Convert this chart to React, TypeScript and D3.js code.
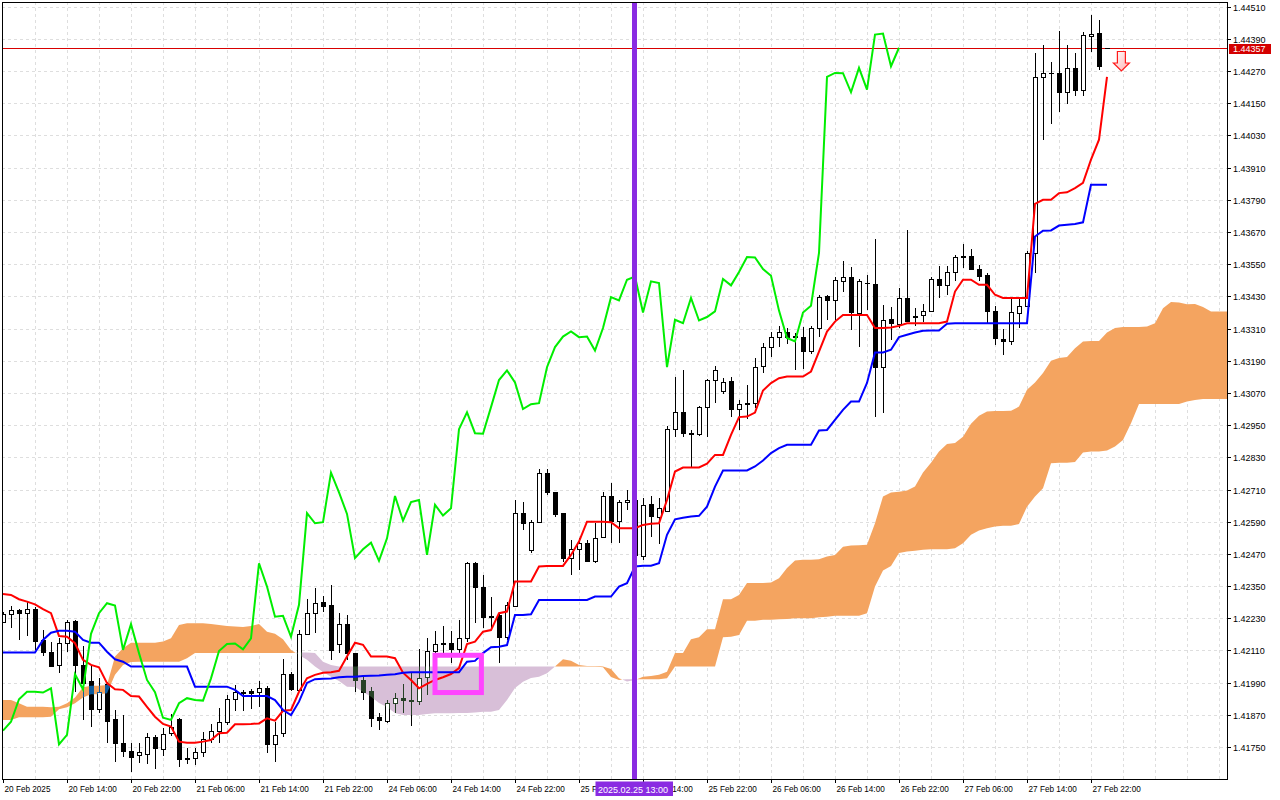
import React from "react";
import * as d3 from "d3";

// ---------- DATA ----------
// H1 bars, bar 0 = 20 Feb 2025 06:00
const opens = [1.42217,1.42245,1.42261,1.42249,1.42265,1.42149,1.42103,1.42055,1.42137,1.42220,
1.42055,1.41996,1.41891,1.41985,1.41853,1.41764,1.41736,1.41720,1.41723,1.41786,
1.41741,1.41802,1.41854,1.41708,1.41708,1.41730,1.41780,1.41811,1.41844,1.41928,
1.41953,1.41959,1.41954,1.41971,1.41760,1.41801,1.42021,1.41963,1.42172,1.42249,
1.42290,1.42280,1.42134,1.42209,1.42100,1.42000,1.41960,1.41863,1.41848,1.41913,
1.41933,1.41925,1.41923,1.42010,1.42109,1.42134,1.42137,1.42114,1.42155,1.42435,
1.42348,1.42236,1.42242,1.42161,1.42277,1.42622,1.42485,1.42588,1.42773,1.42700,
1.42622,1.42454,1.42487,1.42512,1.42444,1.42532,1.42686,1.42594,1.42663,1.42671,
1.42462,1.42655,1.42609,1.42631,1.42935,1.42998,1.42922,1.42916,1.43017,1.43118,
1.43078,1.43115,1.43010,1.43030,1.43032,1.43169,1.43241,1.43280,1.43299,1.43282,
1.43280,1.43228,1.43312,1.43432,1.43415,1.43489,1.43504,1.43368,1.43481,1.43476,
1.43166,1.43345,1.43328,1.43424,1.43358,1.43359,1.43374,1.43495,1.43471,1.43521,
1.43581,1.43579,1.43532,1.43511,1.43377,1.43271,1.43262,1.43368,1.43395,1.43592,
1.44248,1.44263,1.44263,1.44191,1.44282,1.44201,1.44402,1.44412,1.44357];

const highs = [1.42254,1.42276,1.42265,1.42292,1.42272,1.42186,1.42143,1.42157,1.42224,1.42224,
1.42127,1.42052,1.42006,1.41994,1.41888,1.41869,1.41766,1.41766,1.41801,1.41795,
1.41820,1.41873,1.41857,1.41745,1.41745,1.41807,1.41836,1.41894,1.41944,1.41981,
1.41963,1.41965,1.41997,1.41978,1.41844,1.42078,1.42031,1.42186,1.42301,1.42344,
1.42313,1.42354,1.42249,1.42242,1.42102,1.42019,1.41975,1.41876,1.41925,1.41950,
1.41985,1.42025,1.42116,1.42155,1.42183,1.42201,1.42184,1.42224,1.42441,1.42438,
1.42392,1.42311,1.42255,1.42292,1.42671,1.42665,1.42597,1.42786,1.42786,1.42702,
1.42624,1.42522,1.42528,1.42522,1.42584,1.42702,1.42734,1.42671,1.42709,1.42701,
1.42678,1.42684,1.42678,1.42947,1.43128,1.43156,1.42932,1.43022,1.43122,1.43169,
1.43125,1.43131,1.43044,1.43100,1.43200,1.43258,1.43299,1.43320,1.43312,1.43293,
1.43316,1.43318,1.43436,1.43436,1.43502,1.43563,1.43539,1.43495,1.43511,1.43644,
1.43399,1.43390,1.43463,1.43676,1.43386,1.43402,1.43502,1.43544,1.43542,1.43585,
1.43626,1.43606,1.43548,1.43519,1.43395,1.43308,1.43420,1.43420,1.43598,1.44338,
1.44369,1.44302,1.44418,1.44369,1.44338,1.44414,1.44480,1.44462,1.44357];

const lows = [1.42213,1.42195,1.42149,1.42164,1.42112,1.42091,1.42050,1.42027,1.42105,1.41956,
1.41851,1.41826,1.41878,1.41764,1.41695,1.41712,1.41656,1.41689,1.41687,1.41667,
1.41716,1.41791,1.41674,1.41687,1.41683,1.41714,1.41764,1.41764,1.41832,1.41885,
1.41885,1.41891,1.41900,1.41727,1.41695,1.41788,1.41960,1.41956,1.42168,1.42176,
1.42255,1.42075,1.42100,1.42075,1.41956,1.41925,1.41824,1.41813,1.41838,1.41876,
1.41876,1.41829,1.41907,1.41944,1.42100,1.42100,1.42062,1.42087,1.42143,1.42211,
1.42193,1.42186,1.42062,1.42149,1.42273,1.42559,1.42473,1.42584,1.42690,1.42609,
1.42441,1.42392,1.42410,1.42441,1.42435,1.42528,1.42510,1.42512,1.42634,1.42420,
1.42448,1.42534,1.42507,1.42628,1.42907,1.42907,1.42793,1.42910,1.42907,1.43032,
1.43066,1.42982,1.42930,1.42972,1.43013,1.43146,1.43204,1.43241,1.43253,1.43156,
1.43159,1.43216,1.43280,1.43343,1.43343,1.43448,1.43305,1.43243,1.43380,1.42980,
1.42997,1.43268,1.43312,1.43336,1.43318,1.43336,1.43370,1.43424,1.43436,1.43486,
1.43536,1.43527,1.43489,1.43330,1.43250,1.43210,1.43250,1.43312,1.43392,1.43519,
1.44014,1.44074,1.44116,1.44148,1.44178,1.44178,1.44340,1.44275,1.44357];

const closes = [1.42245,1.42260,1.42249,1.42264,1.42146,1.42105,1.42052,1.42137,1.42215,1.42055,
1.41988,1.41891,1.41954,1.41848,1.41764,1.41736,1.41714,1.41730,1.41786,1.41745,
1.41799,1.41825,1.41704,1.41704,1.41730,1.41780,1.41811,1.41844,1.41928,1.41956,
1.41956,1.41953,1.41969,1.41760,1.41795,1.42021,1.41965,1.42172,1.42249,1.42286,
1.42277,1.42112,1.42208,1.42100,1.42000,1.41954,1.41859,1.41851,1.41913,1.41932,
1.41925,1.41923,1.42006,1.42108,1.42134,1.42136,1.42114,1.42155,1.42435,1.42348,
1.42236,1.42239,1.42161,1.42280,1.42622,1.42584,1.42588,1.42773,1.42699,1.42619,
1.42454,1.42487,1.42512,1.42444,1.42528,1.42686,1.42594,1.42663,1.42671,1.42466,
1.42653,1.42613,1.42640,1.42935,1.42998,1.42920,1.42918,1.43017,1.43118,1.43154,
1.43109,1.43010,1.43028,1.43032,1.43166,1.43241,1.43280,1.43299,1.43278,1.43280,
1.43228,1.43312,1.43427,1.43415,1.43492,1.43504,1.43370,1.43486,1.43480,1.43166,
1.43343,1.43330,1.43424,1.43340,1.43353,1.43374,1.43495,1.43471,1.43521,1.43577,
1.43575,1.43532,1.43507,1.43377,1.43275,1.43262,1.43370,1.43395,1.43592,1.44248,
1.44263,1.44262,1.44191,1.44282,1.44201,1.44406,1.44410,1.44288,1.44357];

// Tenkan-sen (red)
const tenkan = [1.42320,1.42317,1.42301,1.42292,1.42282,1.42264,1.42249,1.42164,1.42161,1.42137,
1.42075,1.42056,1.42047,1.41988,1.41965,1.41963,1.41940,1.41938,1.41900,1.41863,
1.41836,1.41826,1.41770,1.41766,1.41766,1.41770,1.41776,1.41801,1.41803,1.41835,
1.41835,1.41836,1.41838,1.41857,1.41848,1.41885,1.41888,1.41956,1.42006,1.42019,
1.42027,1.42029,1.42034,1.42087,1.42139,1.42131,1.42087,1.42087,1.42087,1.42081,
1.42027,1.42000,1.41969,1.41985,1.42000,1.42010,1.42022,1.42044,1.42134,1.42143,
1.42180,1.42186,1.42249,1.42255,1.42367,1.42367,1.42367,1.42423,1.42425,1.42425,
1.42425,1.42466,1.42516,1.42590,1.42590,1.42590,1.42588,1.42566,1.42566,1.42566,
1.42578,1.42582,1.42584,1.42671,1.42777,1.42792,1.42792,1.42792,1.42806,1.42839,
1.42839,1.42914,1.42980,1.42982,1.42997,1.43079,1.43107,1.43125,1.43131,1.43131,
1.43131,1.43150,1.43224,1.43299,1.43336,1.43361,1.43361,1.43361,1.43361,1.43312,
1.43312,1.43314,1.43320,1.43330,1.43330,1.43330,1.43330,1.43330,1.43336,1.43448,
1.43492,1.43492,1.43473,1.43473,1.43436,1.43424,1.43424,1.43424,1.43424,1.43775,
1.43790,1.43790,1.43815,1.43818,1.43834,1.43853,1.43940,1.44014,1.44248];

// Kijun-sen (blue)
const kijun = [1.42102,1.42102,1.42102,1.42102,1.42102,1.42149,1.42176,1.42183,1.42183,1.42180,
1.42149,1.42139,1.42139,1.42105,1.42077,1.42068,1.42050,1.42050,1.42050,1.42050,
1.42050,1.42050,1.42050,1.42050,1.41975,1.41975,1.41975,1.41975,1.41975,1.41963,
1.41940,1.41940,1.41940,1.41940,1.41925,1.41888,1.41869,1.41919,1.41989,1.42003,
1.42004,1.42005,1.42010,1.42012,1.42012,1.42015,1.42016,1.42017,1.42019,1.42021,
1.42027,1.42029,1.42029,1.42029,1.42029,1.42029,1.42029,1.42029,1.42068,1.42071,
1.42100,1.42122,1.42124,1.42130,1.42242,1.42242,1.42245,1.42298,1.42298,1.42298,
1.42298,1.42298,1.42298,1.42298,1.42311,1.42311,1.42311,1.42348,1.42361,1.42423,
1.42426,1.42426,1.42435,1.42541,1.42599,1.42605,1.42609,1.42612,1.42646,1.42721,
1.42781,1.42781,1.42781,1.42781,1.42796,1.42818,1.42846,1.42864,1.42877,1.42877,
1.42877,1.42877,1.42930,1.42932,1.42970,1.43007,1.43038,1.43038,1.43107,1.43221,
1.43221,1.43231,1.43278,1.43287,1.43295,1.43302,1.43303,1.43303,1.43328,1.43330,
1.43330,1.43330,1.43330,1.43330,1.43330,1.43330,1.43330,1.43330,1.43330,1.43653,
1.43675,1.43676,1.43694,1.43697,1.43700,1.43706,1.43846,1.43846,1.43846];

// Senkou Span A / B as plotted (already shifted 26 bars forward), bars 0..154
const spanA = [1.41925,1.41925,1.41913,1.41900,1.41900,1.41900,1.41898,1.41900,1.41913,1.41935,
1.41973,1.41978,1.41978,1.41981,1.42087,1.42118,1.42139,1.42139,1.42139,1.42139,
1.42143,1.42155,1.42205,1.42211,1.42211,1.42211,1.42209,1.42205,1.42201,1.42199,
1.42197,1.42201,1.42209,1.42180,1.42172,1.42152,1.42112,1.42093,1.42075,1.42050,
1.42030,1.42012,1.41996,1.41975,1.41974,1.41955,1.41937,1.41914,1.41899,1.41877,
1.41869,1.41869,1.41869,1.41873,1.41876,1.41876,1.41876,1.41877,1.41877,1.41879,
1.41881,1.41881,1.41888,1.41925,1.41970,1.41993,1.42007,1.42012,1.42025,1.42050,
1.42077,1.42072,1.42056,1.42052,1.42052,1.42050,1.42041,1.42006,1.41994,1.42000,
1.42012,1.42015,1.42019,1.42031,1.42100,1.42100,1.42152,1.42159,1.42189,1.42189,
1.42301,1.42301,1.42317,1.42361,1.42361,1.42361,1.42363,1.42379,1.42417,1.42445,
1.42448,1.42448,1.42450,1.42460,1.42466,1.42497,1.42501,1.42502,1.42504,1.42584,
1.42684,1.42699,1.42702,1.42706,1.42721,1.42773,1.42810,1.42852,1.42880,1.42883,
1.42907,1.42955,1.42985,1.43001,1.43003,1.43003,1.43004,1.43019,1.43082,1.43109,
1.43144,1.43190,1.43200,1.43204,1.43237,1.43262,1.43264,1.43264,1.43295,1.43312,
1.43316,1.43316,1.43316,1.43318,1.43330,1.43386,1.43409,1.43407,1.43401,1.43402,
1.43390,1.43374,1.43374,1.43374,1.43374];

const spanB = [1.41851,1.41851,1.41861,1.41861,1.41861,1.41861,1.41863,1.41891,1.41898,1.41913,
1.41935,1.41947,1.41947,1.41950,1.42019,1.42056,1.42067,1.42068,1.42068,1.42068,
1.42068,1.42068,1.42068,1.42081,1.42100,1.42100,1.42100,1.42100,1.42100,1.42100,
1.42100,1.42100,1.42100,1.42100,1.42100,1.42100,1.42100,1.42102,1.42102,1.42100,
1.42068,1.42056,1.42050,1.42050,1.42050,1.42050,1.42050,1.42050,1.42050,1.42050,
1.42050,1.42050,1.42050,1.42050,1.42050,1.42050,1.42050,1.42050,1.42050,1.42050,
1.42050,1.42050,1.42050,1.42050,1.42050,1.42050,1.42050,1.42050,1.42050,1.42050,
1.42050,1.42050,1.42050,1.42050,1.42050,1.42047,1.42011,1.42000,1.42003,1.42003,
1.42003,1.42003,1.42003,1.42006,1.42050,1.42050,1.42050,1.42050,1.42050,1.42050,
1.42159,1.42161,1.42168,1.42221,1.42221,1.42224,1.42224,1.42226,1.42227,1.42230,
1.42230,1.42230,1.42234,1.42236,1.42239,1.42239,1.42239,1.42239,1.42249,1.42348,
1.42408,1.42425,1.42473,1.42479,1.42482,1.42485,1.42487,1.42487,1.42487,1.42491,
1.42510,1.42541,1.42557,1.42566,1.42572,1.42575,1.42575,1.42581,1.42646,1.42684,
1.42715,1.42808,1.42810,1.42810,1.42813,1.42848,1.42852,1.42852,1.42855,1.42870,
1.42895,1.42957,1.43029,1.43029,1.43029,1.43029,1.43029,1.43029,1.43038,1.43044,
1.43047,1.43047,1.43047,1.43047,1.43047];

const priceTicks = [1.4175,1.4187,1.4199,1.4211,1.4223,1.4235,1.4247,1.4259,1.4271,1.4283,
1.4295,1.4307,1.4319,1.4331,1.4343,1.4355,1.4367,1.4379,1.4391,1.4403,1.4415,1.4427,1.4439,1.4451];

const timeTickBars = [0,8,16,24,32,40,48,56,64,72,80,88,96,104,112,120,128,136];
const timeTickLabels = ["20 Feb 2025","20 Feb 14:00","20 Feb 22:00","21 Feb 06:00","21 Feb 14:00",
"21 Feb 22:00","24 Feb 06:00","24 Feb 14:00","24 Feb 22:00","25 Feb 06:00","25 Feb 14:00",
"25 Feb 22:00","26 Feb 06:00","26 Feb 14:00","26 Feb 22:00","27 Feb 06:00","27 Feb 14:00","27 Feb 22:00"];

const currentPrice = 1.44357;
const markerBar = 79;
const markerLabel = "2025.02.25 13:00";
const boxBars = [54, 59.8];
const boxPrices = [1.42092, 1.41953];
const arrowBar = 139.8;
const arrowPrice = 1.44343;
const chikouShift = 26;

const FONT = "'Liberation Sans', Arial, sans-serif";

export default function App() {
  const W = 1280, H = 800;
  const L = 2, T = 2, R = 1227, B = 779;
  const x = d3.scaleLinear().domain([0, 153]).range([3, 3 + 8 * 153]);
  const y = d3.scaleLinear().domain([1.4175, 1.4451]).range([747, 6.7]);

  // cloud points with crossing points inserted
  type CP = { t: number; a: number; b: number };
  const pts: CP[] = [];
  for (let i = 0; i < spanA.length; i++) {
    pts.push({ t: i, a: spanA[i], b: spanB[i] });
    if (i < spanA.length - 1) {
      const d0 = spanA[i] - spanB[i];
      const d1 = spanA[i + 1] - spanB[i + 1];
      if (d0 * d1 < 0) {
        const f = d0 / (d0 - d1);
        const v = spanA[i] + (spanA[i + 1] - spanA[i]) * f;
        pts.push({ t: i + f, a: v, b: v });
      }
    }
  }
  const orangeArea = d3.area<CP>().x(d => x(d.t)).y0(d => y(d.b)).y1(d => y(Math.max(d.a, d.b)));
  const thistleArea = d3.area<CP>().x(d => x(d.t)).y0(d => y(d.a)).y1(d => y(Math.max(d.a, d.b)));
  const orangePath = orangeArea(pts) || "";
  const thistlePath = thistleArea(pts) || "";

  const line = d3.line<number>().x((_, i) => x(i)).y(v => y(v));
  const chikou = closes.slice(chikouShift);

  const candles = (ink: string, paper: string | null, pre: string) =>
    opens.map((o, i) => {
      const c = closes[i];
      const px = Math.round(x(i));
      const yH = Math.round(y(highs[i]));
      const yL = Math.round(y(lows[i]));
      const yT = Math.round(y(Math.max(o, c)));
      const yB = Math.round(y(Math.min(o, c)));
      const bull = c >= o;
      const els: React.ReactNode[] = [];
      if (yT > yH) els.push(<line key="u" x1={px + 0.5} x2={px + 0.5} y1={yH} y2={yT} stroke={ink} strokeWidth={1} />);
      if (yL > yB) els.push(<line key="d" x1={px + 0.5} x2={px + 0.5} y1={yB} y2={yL} stroke={ink} strokeWidth={1} />);
      if (yB - yT <= 0) {
        els.push(<line key="b" x1={px - 2} x2={px + 3} y1={yT + 0.5} y2={yT + 0.5} stroke={ink} strokeWidth={1} />);
      } else {
        els.push(
          <rect key="b" x={px - 1.5} y={yT + 0.5} width={4} height={yB - yT}
            fill={bull ? (paper ?? "none") : ink} stroke={ink} strokeWidth={1} />
        );
      }
      return <g key={pre + i}>{els}</g>;
    });

  const priceY = y(currentPrice);
  const ax = x(arrowBar), ay = y(arrowPrice);
  const arrowPts = [
    [ax - 4, ay], [ax + 4, ay], [ax + 4, ay + 11.5], [ax + 8, ay + 11.5],
    [ax, ay + 19.5], [ax - 8, ay + 11.5], [ax - 4, ay + 11.5],
  ].map(p => p.join(",")).join(" ");

  const gridBars = d3.range(4, 153, 4);

  return (
    <div style={{ position: "absolute", left: 0, top: 0 }}>
      <svg width={W} height={H} style={{ display: "block", background: "#fff" }} fontFamily={FONT}>
        <defs>
          <clipPath id="plot"><rect x={L + 1} y={T + 1} width={R - L - 1} height={B - T - 1} /></clipPath>
          <clipPath id="clipOrange"><path d={orangePath} /></clipPath>
          <clipPath id="clipThistle"><path d={thistlePath} /></clipPath>
          <linearGradient id="arrowGrad" x1="0" y1="0" x2="1" y2="1">
            <stop offset="0" stopColor="#ffffff" />
            <stop offset="1" stopColor="#ffb4b4" />
          </linearGradient>
        </defs>
        <rect x={0} y={0} width={W} height={H} fill="#fff" />
        <g clipPath="url(#plot)">
          {/* grid */}
          {priceTicks.map(p => (
            <line key={"hg" + p} x1={L} x2={R} y1={Math.round(y(p)) + 0.5} y2={Math.round(y(p)) + 0.5}
              stroke="#dedede" strokeDasharray="3,3" strokeWidth={1} />
          ))}
          {gridBars.map(b => (
            <line key={"vg" + b} x1={Math.round(x(b)) + 0.5} x2={Math.round(x(b)) + 0.5} y1={T} y2={B}
              stroke="#dedede" strokeDasharray="3,3" strokeWidth={1} />
          ))}
          {/* cloud */}
          <path d={orangePath} fill="#F4A460" />
          <path d={thistlePath} fill="#D8BFD8" />
          {/* current price line */}
          <line x1={L} x2={R} y1={Math.round(priceY) + 0.5} y2={Math.round(priceY) + 0.5} stroke="#d80000" strokeWidth={1} />
          {/* candles */}
          <g shapeRendering="crispEdges">{candles("#000", "#fff", "c")}</g>
          <g shapeRendering="crispEdges" clipPath="url(#clipOrange)">{candles("#0B5B9F", null, "o")}</g>
          <g shapeRendering="crispEdges" clipPath="url(#clipThistle)">{candles("#274027", null, "t")}</g>
          {/* ichimoku lines */}
          <path d={line(tenkan) || ""} fill="none" stroke="#ff0000" strokeWidth={2} />
          <path d={line(kijun) || ""} fill="none" stroke="#0000ff" strokeWidth={2} />
          <path d={line(chikou) || ""} fill="none" stroke="#00ee00" strokeWidth={2} />
          {/* vertical marker */}
          <line x1={x(markerBar) - 0.5} x2={x(markerBar) - 0.5} y1={T} y2={B} stroke="#8A2BE2" strokeWidth={5} />
          {/* rectangle */}
          <rect x={x(boxBars[0])} y={y(boxPrices[0])} width={x(boxBars[1]) - x(boxBars[0])}
            height={y(boxPrices[1]) - y(boxPrices[0])} fill="none" stroke="#ff44ff" strokeWidth={5} />
          {/* arrow */}
          <polygon points={arrowPts} fill="url(#arrowGrad)" stroke="#ff1a1a" strokeWidth={1.2} />
        </g>
        {/* frame */}
        <rect x={L + 0.5} y={T + 0.5} width={R - L} height={B - T} fill="none" stroke="#000" strokeWidth={1} shapeRendering="crispEdges" />
        {/* price axis */}
        {priceTicks.map(p => {
          const yy = Math.round(y(p)) + 0.5;
          return (
            <g key={"pt" + p}>
              <line x1={R} x2={R + 4} y1={yy} y2={yy} stroke="#000" strokeWidth={1} shapeRendering="crispEdges" />
              <text x={R + 6} y={yy} dy="0.35em" fontSize={9} fill="#000">{p.toFixed(5)}</text>
            </g>
          );
        })}
        <rect x={R + 2} y={Math.round(priceY) - 4} width={42} height={10} fill="#d40000" />
        <text x={R + 6} y={Math.round(priceY) + 0.5} dy="0.35em" fontSize={9} fill="#fff">{currentPrice.toFixed(5)}</text>
        {/* time axis */}
        {timeTickBars.map((b, k) => {
          const xx = Math.round(x(b)) + 0.5;
          return (
            <g key={"tt" + b}>
              <line x1={xx} x2={xx} y1={B} y2={B + 4} stroke="#000" strokeWidth={1} shapeRendering="crispEdges" />
              <text x={xx + 1} y={792} fontSize={8.2} fill="#000">{timeTickLabels[k]}</text>
            </g>
          );
        })}
        <rect x={x(markerBar) - 39.5} y={781.5} width={77.5} height={14.5} fill="#8A2BE2" />
        <text x={x(markerBar) - 37} y={792.5} fontSize={9} fill="#fff">{markerLabel}</text>
      </svg>
    </div>
  );
}
